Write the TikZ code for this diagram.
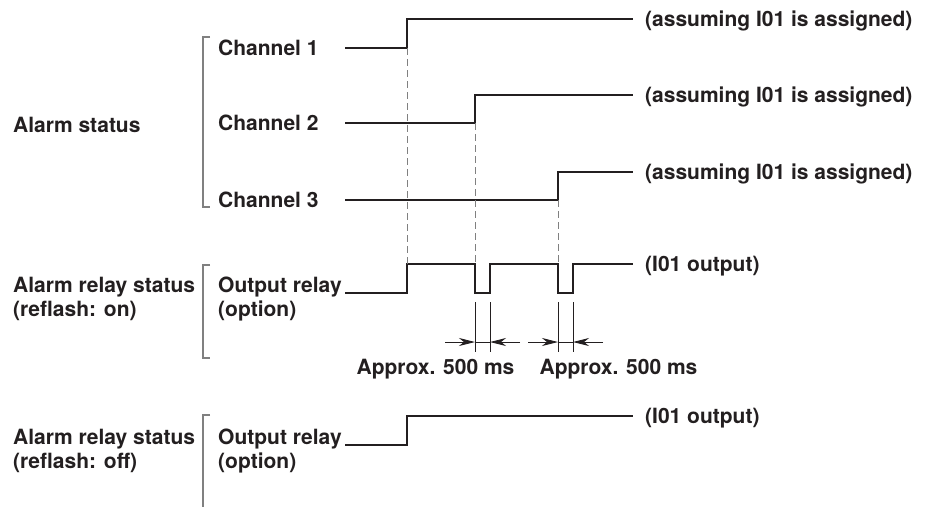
\documentclass[tikz,border=0pt]{standalone}
\usepackage{fontspec}
\setmainfont{TeX Gyre Heros}
\usetikzlibrary{arrows.meta}
\definecolor{ink}{HTML}{231F20}
\definecolor{brk}{HTML}{808080}
\begin{document}
\begin{tikzpicture}[x=1pt,y=-1pt,
  lbl/.style={inner sep=0pt, anchor=base west, font=\fontsize{21}{24}\selectfont\bfseries, text=ink},
  sig/.style={line width=2.4pt, draw=ink, line join=miter},
  brack/.style={line width=1.3pt, draw=brk},
  guide/.style={line width=1pt, draw=brk, dash pattern=on 7pt off 4pt},
  dim/.style={line width=0.9pt, draw=ink},
  dimarrow/.style={dim, -{Stealth[length=16pt,width=8pt,inset=5pt]}}]
\useasboundingbox (0,0) rectangle (929,507);

% ---------- Alarm status ----------
\node[lbl] (alarm) at (13,132) {Alarm status};
\draw[brack] (210,37) -- (203,37) -- (203,207) -- (210,207);
\node[lbl] (ch1) at (218,55) {Channel 1};
\node[lbl] (ch2) at (218,130) {Channel 2};
\node[lbl] (ch3) at (218,207) {Channel 3};
\node[lbl] (as1) at (645,26) {(assuming I01 is assigned)};
\node[lbl] (as2) at (645,102) {(assuming I01 is assigned)};
\node[lbl] (as3) at (645,179) {(assuming I01 is assigned)};

\coordinate (c1a) at (345,48);  \coordinate (c1b) at (407,48);
\coordinate (c1c) at (407,19);  \coordinate (c1d) at (633,19);
\coordinate (c2a) at (345,123); \coordinate (c2b) at (475,123);
\coordinate (c2c) at (475,95);  \coordinate (c2d) at (633,95);
\coordinate (c3a) at (345,200); \coordinate (c3b) at (558,200);
\coordinate (c3c) at (558,172); \coordinate (c3d) at (633,172);
\draw[sig] (c1a) -- (c1b) -- (c1c) -- (c1d);
\draw[sig] (c2a) -- (c2b) -- (c2c) -- (c2d);
\draw[sig] (c3a) -- (c3b) -- (c3c) -- (c3d);

% ---------- Alarm relay status (reflash on) ----------
\node[lbl] (rs1) at (13,292) {Alarm relay status};
\node[lbl] (rf1) at (13,316) {(reflash: on)};
\draw[brack] (210,265) -- (203,265) -- (203,358) -- (210,358);
\node[lbl] (or1) at (218,292) {Output relay};
\node[lbl] (op1) at (218,316) {(option)};
\node[lbl] (io1) at (645,271) {(I01 output)};

\coordinate (r0) at (345,293);
\coordinate (r1) at (407,293); \coordinate (r2) at (407,264);
\coordinate (r3) at (475,264); \coordinate (r4) at (475,293);
\coordinate (r5) at (490,293); \coordinate (r6) at (490,264);
\coordinate (r7) at (558,264); \coordinate (r8) at (558,293);
\coordinate (r9) at (573,293); \coordinate (r10) at (573,264);
\coordinate (r11) at (633,264);
\draw[sig] (r0) -- (r1) -- (r2) -- (r3) -- (r4) -- (r5) -- (r6) -- (r7) -- (r8) -- (r9) -- (r10) -- (r11);

% guides
\draw[guide] (c1b) -- (r2);
\draw[guide] (c2b) -- (r3);
\draw[guide] (c3b) -- (r7);

% dimension marks
\coordinate (d1t) at (475,302); \coordinate (d1b) at (475,352);
\coordinate (d2t) at (490,302); \coordinate (d2b) at (490,352);
\coordinate (d3t) at (558,302); \coordinate (d3b) at (558,352);
\coordinate (d4t) at (573,302); \coordinate (d4b) at (573,352);
\draw[dim] (d1t) -- (d1b);
\draw[dim] (d2t) -- (d2b);
\draw[dim] (d3t) -- (d3b);
\draw[dim] (d4t) -- (d4b);
\coordinate (a1s) at (445,342); \coordinate (a1e) at (475,342);
\coordinate (a2s) at (520,342); \coordinate (a2e) at (490,342);
\coordinate (a3s) at (528,342); \coordinate (a3e) at (558,342);
\coordinate (a4s) at (603,342); \coordinate (a4e) at (573,342);
\draw[dimarrow] (a1s) -- (a1e);
\draw[dimarrow] (a2s) -- (a2e);
\draw[dim] (a1e) -- (a2e);
\draw[dimarrow] (a3s) -- (a3e);
\draw[dimarrow] (a4s) -- (a4e);
\draw[dim] (a3e) -- (a4e);
\node[lbl, anchor=base] (ap1) at (435.5,374) {Approx. 500 ms};
\node[lbl, anchor=base] (ap2) at (618.5,374) {Approx. 500 ms};

% ---------- Alarm relay status (reflash off) ----------
\node[lbl] (rs2) at (13,444) {Alarm relay status};
\node[lbl] (rf2) at (13,468) {(reflash: off)};
\draw[brack] (210,415) -- (203,415) -- (203,507);
\node[lbl] (or2) at (218,444) {Output relay};
\node[lbl] (op2) at (218,468) {(option)};
\node[lbl] (io2) at (645,423) {(I01 output)};
\coordinate (s0) at (345,445); \coordinate (s1) at (407,445);
\coordinate (s2) at (407,416); \coordinate (s3) at (633,416);
\draw[sig] (s0) -- (s1) -- (s2) -- (s3);
\end{tikzpicture}
\end{document}
